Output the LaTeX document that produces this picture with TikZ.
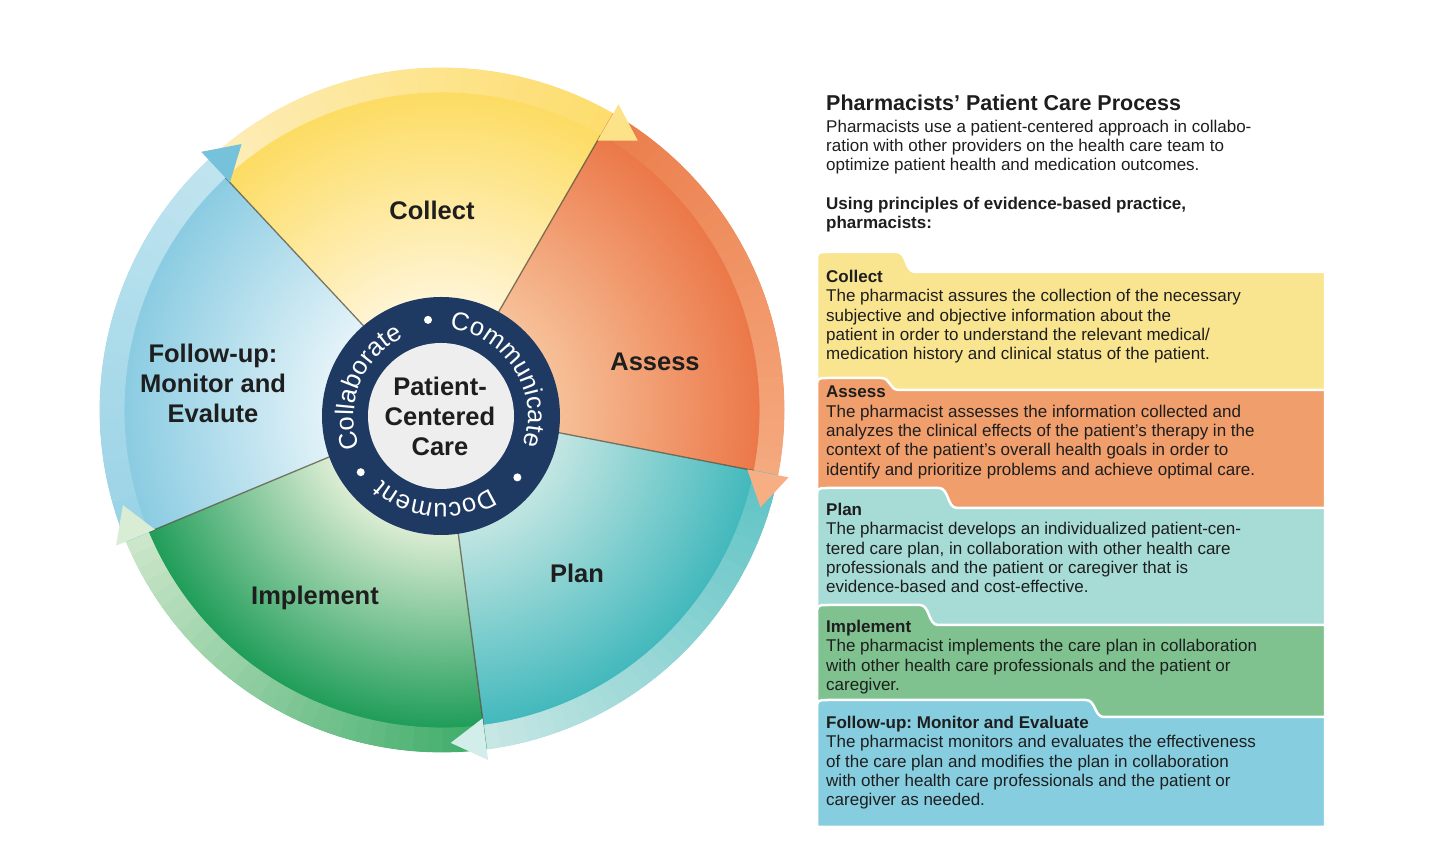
\documentclass[tikz,border=0pt]{standalone}
\usepackage{fontspec}
\setmainfont{Liberation Sans}
\usetikzlibrary{decorations.text}
\frenchspacing

\definecolor{txt}{HTML}{1E1E1E}
\definecolor{bline}{HTML}{55503C}
\definecolor{hubnavy}{HTML}{1F3A62}
\definecolor{hubin}{HTML}{EEEEEE}
% pie gradients
\definecolor{colInA}{HTML}{FFF5D6}\definecolor{colOutA}{HTML}{FCD955}
\definecolor{colInB}{HTML}{F7C29A}\definecolor{colOutB}{HTML}{EA6F3F}
\definecolor{colInC}{HTML}{C9E8E4}\definecolor{colOutC}{HTML}{33B3B8}
\definecolor{colInD}{HTML}{E8F2DC}\definecolor{colOutD}{HTML}{08934A}
\definecolor{colInE}{HTML}{E6F4F9}\definecolor{colOutE}{HTML}{80C7DF}
% bands
\definecolor{bandAs}{HTML}{FDEDB8}\definecolor{bandAe}{HTML}{FDDD6E}\definecolor{headA}{HTML}{FCE38A}
\definecolor{bandBs}{HTML}{EC7E4C}\definecolor{bandBe}{HTML}{F4A97E}\definecolor{headB}{HTML}{F6AE82}
\definecolor{bandCs}{HTML}{5FC3C5}\definecolor{bandCe}{HTML}{C6E7E4}\definecolor{headC}{HTML}{D3EDEA}
\definecolor{bandDs}{HTML}{3FAD6A}\definecolor{bandDe}{HTML}{CBE6C9}\definecolor{headD}{HTML}{D9EDD4}
\definecolor{bandEs}{HTML}{9AD3E6}\definecolor{bandEe}{HTML}{C0E4EF}\definecolor{headE}{HTML}{76C2DB}
% panels
\definecolor{panA}{HTML}{F9E490}
\definecolor{panB}{HTML}{F09F6C}
\definecolor{panC}{HTML}{A6DBD6}
\definecolor{panD}{HTML}{7FC290}
\definecolor{panE}{HTML}{87CDE0}

\pgfdeclareradialshading{shA}{\pgfpoint{0bp}{0bp}}{color(0bp)=(colInA); color(8bp)=(colInA); color(25bp)=(colOutA); color(50bp)=(colOutA)}
\pgfdeclareradialshading{shB}{\pgfpoint{0bp}{0bp}}{color(0bp)=(colInB); color(8bp)=(colInB); color(25bp)=(colOutB); color(50bp)=(colOutB)}
\pgfdeclareradialshading{shC}{\pgfpoint{0bp}{0bp}}{color(0bp)=(colInC); color(8bp)=(colInC); color(25bp)=(colOutC); color(50bp)=(colOutC)}
\pgfdeclareradialshading{shD}{\pgfpoint{0bp}{0bp}}{color(0bp)=(colInD); color(8bp)=(colInD); color(25bp)=(colOutD); color(50bp)=(colOutD)}
\pgfdeclareradialshading{shE}{\pgfpoint{0bp}{0bp}}{color(0bp)=(colInE); color(8bp)=(colInE); color(25bp)=(colOutE); color(50bp)=(colOutE)}

\newcommand{\pieseg}[3]{%
  \begin{scope}
    \clip (0,0) -- (#1:342) arc[start angle=#1, end angle=#2, radius=342] -- cycle;
    \shade[shading=#3] (0,0) circle[radius=342];
  \end{scope}}

\newcommand{\wheelband}[4]{%
  \foreach \k in {0,...,29}{%
    \pgfmathsetmacro{\aa}{(#1)+((#2)-(#1))*\k/30}%
    \pgfmathsetmacro{\bb}{(#1)+((#2)-(#1))*(\k+1)/30}%
    \pgfmathtruncatemacro{\pp}{100*\k/29}%
    \fill[#4!\pp!#3, draw=#4!\pp!#3, line width=0.8, line join=round]
      (\aa:318) arc[start angle=\aa, end angle=\bb, radius=318]
      -- (\bb:342) arc[start angle=\bb, end angle=\aa, radius=342] -- cycle;
  }}

\newcommand{\wheelhead}[2]{%
  \fill[#2] (#1:311) -- (#1:353) -- ({(#1)-6}:333) -- cycle;}

\newcommand{\tabpanel}[5]{%
  \fill[#1, draw=white, line width=2.5]
    (817,#5) -- (817,{#2-11}) .. controls (817,#2) .. (828,#2)
    -- ({#4-8},#2) .. controls ({#4+2},#2) and ({#4},#3) .. ({#4+10},#3)
    -- (1325,#3) -- (1325,#5) -- cycle;}

\begin{document}
\begin{tikzpicture}[x=1pt,y=1pt,
  wlabel/.style={font=\fontsize{25.5}{30}\selectfont\bfseries, text=txt, align=center, inner sep=0},
  para/.style={anchor=north west, inner sep=0, align=left, font=\fontsize{17}{19.3}\selectfont, text=txt},
  boundline/.style={draw=bline, line width=1.3, opacity=0.75},
  ringdot/.style={fill=white}]
\useasboundingbox (0,0) rectangle (1440,843);
\fill[white] (0,0) rectangle (1440,843);

% ===== wheel =====
\begin{scope}[shift={(442,433)}]
  \pieseg{133}{60}{shA}
  \pieseg{60}{-11}{shB}
  \pieseg{-11}{-82.5}{shC}
  \pieseg{-82.5}{-157.4}{shD}
  \pieseg{202.6}{133}{shE}

  \foreach \b in {133,60,-11,-82.5,-157.4}
    \draw[boundline] (0,0) -- (\b:318);

  \wheelband{133}{60}{bandAs}{bandAe}
  \wheelband{60}{-11}{bandBs}{bandBe}
  \wheelband{-11}{-82.5}{bandCs}{bandCe}
  \wheelband{-82.5}{-157.4}{bandDs}{bandDe}
  \wheelband{202.6}{133}{bandEs}{bandEe}

  \wheelhead{60}{headA}
  \wheelhead{-11}{headB}
  \wheelhead{-82.5}{headC}
  \wheelhead{-157.4}{headD}
  \wheelhead{133}{headE}

  \node[wlabel] (lcollect) at (-10,200) {Collect};
  \node[wlabel] (lassess) at (213,48) {Assess};
  \node[wlabel] (lplan) at (135,-163) {Plan};
  \node[wlabel] (limplement) at (-127,-188) {Implement};
  \node[wlabel] (lfollow) at (-229,27) {Follow-up:\\Monitor and\\Evalute};

  % hub
  \begin{scope}[shift={(-1,-6)}]
    \fill[hubnavy] (0,0) circle[radius=119];
    \fill[hubin] (0,0) circle[radius=73];
    \path[decorate, decoration={text along path, text={|\fontsize{25.5}{26}\selectfont|Collaborate},
        text align=center, text color=white}]
      (218.5:87) arc[start angle=218.5, end angle=98.5, radius=87];
    \path[decorate, decoration={text along path, text={|\fontsize{25.5}{26}\selectfont|Communicate},
        text align=center, text color=white}]
      (95:87) arc[start angle=95, end angle=-30, radius=87];
    \path[decorate, decoration={text along path, text={|\fontsize{25.5}{26}\selectfont|Document},
        text align=center, text color=white}]
      (-36:87) arc[start angle=-36, end angle=-152, radius=87];
    \fill[ringdot] (97.7:97) circle[radius=4];
    \fill[ringdot] (215:98) circle[radius=4];
    \fill[ringdot] (-38.8:98) circle[radius=4];
    \node[wlabel] (lcenter) at (-1,0) {Patient-\\Centered\\Care};
  \end{scope}
\end{scope}

% ===== right panel =====
\node[anchor=base west, inner sep=0, font=\fontsize{21.5}{24}\selectfont\bfseries, text=txt] (title)
  at (826,732) {Pharmacists’ Patient Care Process};
\node[para] (intro) at (826,723.5) {Pharmacists use a patient-centered approach in collabo-\\
ration with other providers on the health care team to\\
optimize patient health and medication outcomes.};
\node[para, font=\fontsize{17}{19.3}\selectfont\bfseries] (using) at (826,646)
  {Using principles of evidence-based practice,\\pharmacists:};

\tabpanel{panA}{591}{571}{905}{448}
\tabpanel{panB}{465}{453}{889}{330}
\tabpanel{panC}{355}{335}{947}{213}
\tabpanel{panD}{238}{218}{928}{121}
\tabpanel{panE}{143}{126}{1094}{16}

\node[para] (tcollect) at (826,573) {\textbf{Collect}\\
The pharmacist assures the collection of the necessary\\
subjective and objective information about the\\
patient in order to understand the relevant medical/\\
medication history and clinical status of the patient.};
\node[para] (tassess) at (826,457) {\textbf{Assess}\\
The pharmacist assesses the information collected and\\
analyzes the clinical effects of the patient’s therapy in the\\
context of the patient’s overall health goals in order to\\
identify and prioritize problems and achieve optimal care.};
\node[para] (tplan) at (826,340) {\textbf{Plan}\\
The pharmacist develops an individualized patient-cen-\\
tered care plan, in collaboration with other health care\\
professionals and the patient or caregiver that is\\
evidence-based and cost-effective.};
\node[para] (timplement) at (826,223) {\textbf{Implement}\\
The pharmacist implements the care plan in collaboration\\
with other health care professionals and the patient or\\
caregiver.};
\node[para] (tfollow) at (826,127) {\textbf{Follow-up: Monitor and Evaluate}\\
The pharmacist monitors and evaluates the effectiveness\\
of the care plan and modifies the plan in collaboration\\
with other health care professionals and the patient or\\
caregiver as needed.};
\end{tikzpicture}
\end{document}
